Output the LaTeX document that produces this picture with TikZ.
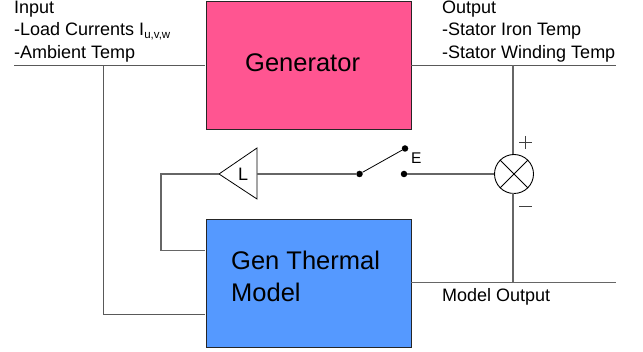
\documentclass[tikz,border=0pt]{standalone}
\usepackage{fontspec}
\setmainfont{Liberation Sans}
\usetikzlibrary{shapes.geometric}
\tikzset{
  wire/.style={draw=black!60!white,line width=1.1pt},
  wirek/.style={draw=black!65,line width=1pt},
  thin line/.style={draw=black,line width=0.8pt},
  blockbox/.style={draw=black!85,line width=1.2pt,anchor=north west,inner sep=0pt},
  lbl/.style={anchor=base west,inner sep=0pt,font=\fontsize{18}{21}\selectfont},
  blocktext/.style={font=\fontsize{25.5}{30}\selectfont,inner sep=0pt,anchor=base west},
  pin/.style={circle,fill=black,inner sep=0pt,minimum size=6.5pt}
}
\begin{document}
\begin{tikzpicture}[x=1pt,y=1pt]
\useasboundingbox (0,0) rectangle (643,-352);
\node[blockbox,fill={rgb,255:red,255;green,85;blue,145},minimum width=205pt,minimum height=127.5pt] (gen) at (205.7,-1.3) {};
\node[blockbox,fill={rgb,255:red,85;green,153;blue,255},minimum width=205pt,minimum height=128pt] (model) at (205.7,-218.7) {};
\node[blocktext] (gentxt) at (245,-71.7) {Generator};
\node[blocktext] (m1) at (231,-270) {Gen Thermal};
\node[blocktext] (m2) at (231,-302) {Model};
\coordinate (inL) at (14,-65.3);
\coordinate (inR) at (205,-65.3);
\coordinate (br) at (103,-65.3);
\coordinate (brd) at (103,-315);
\coordinate (brr) at (205,-315);
\coordinate (outL) at (411,-65.3);
\coordinate (outR) at (616,-65.3);
\coordinate (j1) at (513,-65.3);
\coordinate (mL) at (411,-282.8);
\coordinate (mR) at (616,-282.8);
\coordinate (j2) at (513,-282.8);
\node[circle,draw=black,line width=0.9pt,minimum size=39pt,inner sep=0pt] (sum) at (514,-174) {};
\draw[thin line] (sum.north west)--(sum.south east) (sum.north east)--(sum.south west);
\node[pin] (sw1) at (359.5,-174) {};
\node[pin] (sw2) at (405,-148.5) {};
\node[pin] (sw3) at (404,-174) {};
\coordinate (triTip) at (219,-174);
\coordinate (triTop) at (257,-148);
\coordinate (triBot) at (257,-199);
\coordinate (triR) at (257,-174);
\draw[thin line,line join=miter] (triTip)--(triTop)--(triBot)--cycle;
\node[lbl] (ll) at (238,-180.5) {L};
\node[lbl,font=\fontsize{15.5}{19}\selectfont] (e) at (411,-163.5) {E};
\draw[thin line] (sw1)--(sw2);
\draw[wirek] (inL)--(inR) (br)--(brd)--(brr) (outL)--(outR);
\draw[wire] (j1)--(513,-154.5) (513,-193.5)--(j2) (mL)--(mR);
\draw[wire] (triR)--(sw1) (sw3)--(sum.west);
\draw[wire] (triTip)--(161,-174)--(161,-250.5)--(205,-250.5);
\node[lbl] (i1) at (14,-14) {Input};
\node[lbl] (i2) at (14,-36) {-Load Currents I\raisebox{-3pt}{\fontsize{11.5}{13}\selectfont u,v,w}};
\node[lbl] (i3) at (14,-58.7) {-Ambient Temp};
\node[lbl] (o1) at (442,-14) {Output};
\node[lbl] (o2) at (442,-36) {-Stator Iron Temp};
\node[lbl] (o3) at (442,-58.7) {-Stator Winding Temp};
\node[lbl] (mo) at (442,-301.7) {Model Output};
\draw[black!75,line width=0.9pt] (519,-142.5) -- (532,-142.5) (525.5,-136) -- (525.5,-149);
\draw[black!75,line width=0.9pt] (519,-206) -- (532,-206);
\end{tikzpicture}
\end{document}
